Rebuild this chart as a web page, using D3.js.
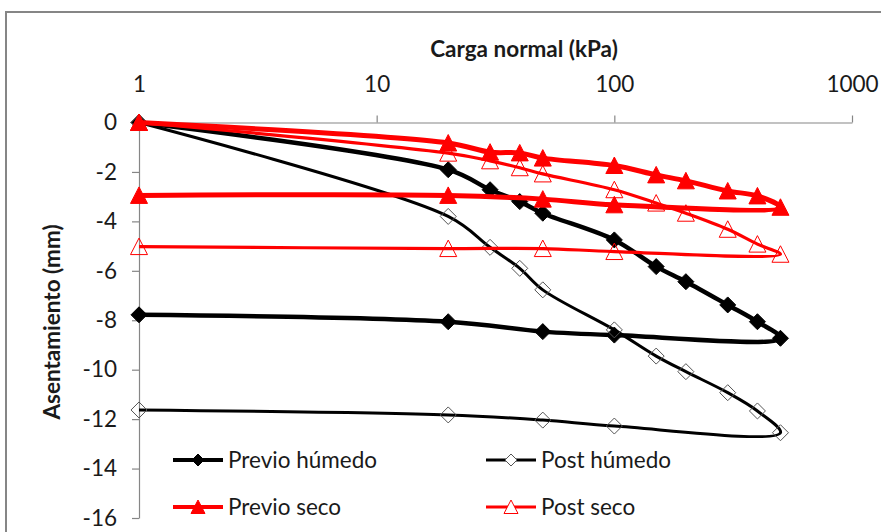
<!DOCTYPE html>
<html>
<head>
<meta charset="utf-8">
<script src="https://cdn.jsdelivr.net/npm/d3@7"></script>
<style>
	body { margin: 0; background: #fff; }
	text { font-family: Lato, "Open Sans", sans-serif; fill: #1a1a1a; }
</style>
</head>
<body>
<script>
// carga normal (kPa): loading path then unloading path
const cargas = [1, 20, 30, 40, 50, 100, 150, 200, 300, 400, 500, 100, 50, 20, 1];

// asentamiento (mm) for each series, same order as cargas
const previoHumedo = [0, -1.91, -2.72, -3.2, -3.67, -4.75, -5.83, -6.44, -7.38, -8.06, -8.73, -8.6, -8.46, -8.06, -7.78];
const postHumedo = [0, -3.8, -5.05, -5.9, -6.77, -8.39, -9.45, -10.08, -10.93, -11.67, -12.55, -12.28, -12.04, -11.83, -11.63];
const previoSeco = [0, -0.83, -1.2, -1.23, -1.44, -1.74, -2.12, -2.36, -2.77, -2.97, -3.43, -3.33, -3.1, -2.95, -2.95];
const postSeco = [0, -1.24, -1.55, -1.83, -2.08, -2.72, -3.26, -3.67, -4.32, -4.92, -5.33, -5.22, -5.1, -5.1, -5.02];

const seriesNames = ["Previo húmedo", "Post húmedo", "Previo seco", "Post seco"];
const xTicks = [1, 10, 100, 1000];
const yTicks = [0, -2, -4, -6, -8, -10, -12, -14, -16];

function drawChart() {
	const W = 881, H = 532;

	// series styles
	const styles = [
		{ color: "#000", width: 4.5, legWidth: 4, marker: "diamond", filled: true },
		{ color: "#000", width: 3, legWidth: 3.2, marker: "diamond", filled: false },
		{ color: "#ff0000", width: 5, legWidth: 4, marker: "triangle", filled: true },
		{ color: "#ff0000", width: 3.2, legWidth: 3.2, marker: "triangle", filled: false }
	];
	const values = [previoHumedo, postHumedo, previoSeco, postSeco];

	const series = seriesNames.map((name, i) => ({
		name: name,
		style: styles[i],
		points: cargas.map((c, j) => ({ x: c, y: values[i][j] }))
	}));

	let x = d3.scaleLog().domain([1, 1000]).range([139, 852]);
	let y = d3.scaleLinear().domain([0, -16]).range([122.5, 518]);

	let svg = d3.select("body")
		.append("svg")
		.attr("width", W)
		.attr("height", H);

	// chart frame (cut off on right and bottom)
	svg.append("rect")
		.attr("x", 6).attr("y", 12)
		.attr("width", 920).attr("height", 560)
		.attr("fill", "none")
		.attr("stroke", "#868686")
		.attr("stroke-width", 2);

	// x axis on top
	let gx = svg.append("g")
		.attr("transform", "translate(0," + y(0) + ")")
		.call(d3.axisTop(x)
			.tickValues(xTicks)
			.tickFormat((d) => String(d))
			.tickSizeInner(7)
			.tickSizeOuter(0)
			.tickPadding(24));
	gx.selectAll("text").style("font-size", "22.5px").attr("fill", "#1a1a1a");

	// y axis
	let gy = svg.append("g")
		.attr("transform", "translate(" + x(1) + ",0)")
		.call(d3.axisLeft(y)
			.tickValues(yTicks)
			.tickFormat((d) => String(d))
			.tickSizeInner(7)
			.tickSizeOuter(0)
			.tickPadding(15));
	gy.selectAll("text").style("font-size", "22.5px").attr("fill", "#1a1a1a");

	svg.selectAll(".domain, .tick line").attr("stroke", "#868686").attr("stroke-width", 1.2);

	// axis titles
	svg.append("text")
		.attr("x", 524).attr("y", 57)
		.attr("text-anchor", "middle")
		.style("font-size", "22.5px")
		.style("font-weight", "bold")
		.text("Carga normal (kPa)");

	svg.append("text")
		.attr("transform", "translate(60,322) rotate(-90)")
		.attr("text-anchor", "middle")
		.style("font-size", "22.5px")
		.style("font-weight", "bold")
		.text("Asentamiento (mm)");

	// marker shapes
	function markerPath(type, r) {
		if (type === "diamond") return "M0," + (-r) + "L" + r + ",0L0," + r + "L" + (-r) + ",0Z";
		return "M0," + (-r - 0.5) + "L" + (r + 0.5) + "," + r + "L" + (-r - 0.5) + "," + r + "Z";
	}

	let line = d3.line()
		.x((d) => x(d.x))
		.y((d) => y(d.y))
		.curve(d3.curveCatmullRom.alpha(0.5));

	series.forEach((s) => {
		let g = svg.append("g");
		g.append("path")
			.datum(s.points)
			.attr("d", line)
			.attr("fill", "none")
			.attr("stroke", s.style.color)
			.attr("stroke-width", s.style.width)
			.attr("stroke-linejoin", "round");

		g.selectAll(".mk")
			.data(s.points)
			.enter()
			.append("path")
			.attr("transform", (d) => "translate(" + x(d.x) + "," + y(d.y) + ")")
			.attr("d", markerPath(s.style.marker, 8))
			.attr("fill", s.style.filled ? s.style.color : "#fff")
			.attr("fill-opacity", s.style.filled ? 1 : 0)
			.attr("stroke", s.style.filled ? s.style.color : (s.style.color === "#000" ? "#555" : s.style.color))
			.attr("stroke-width", 1);
	});

	// legend, 2 x 2 inside the plot
	const legCols = [173, 486];
	const legRows = [460, 507];
	let leg = svg.selectAll(".legend")
		.data(series)
		.enter()
		.append("g")
		.attr("transform", (d, i) => "translate(" + legCols[i % 2] + "," + legRows[Math.floor(i / 2)] + ")");

	leg.append("line")
		.attr("x1", 0).attr("x2", 50)
		.attr("stroke", (d) => d.style.color)
		.attr("stroke-width", (d) => d.style.legWidth);

	leg.append("path")
		.attr("transform", "translate(25,0)")
		.attr("d", (d) => markerPath(d.style.marker, d.style.marker === "diamond" ? 6 : 6.5))
		.attr("fill", (d) => d.style.filled ? d.style.color : "#fff")
		.attr("stroke", (d) => d.style.filled ? d.style.color : (d.style.color === "#000" ? "#555" : d.style.color))
		.attr("stroke-width", 1);

	leg.append("text")
		.attr("x", 55)
		.attr("dy", "0.35em")
		.style("font-size", "22.5px")
		.attr("fill", "#262626")
		.text((d) => d.name);
}

window.addEventListener("load", drawChart);
</script>
</body>
</html>
